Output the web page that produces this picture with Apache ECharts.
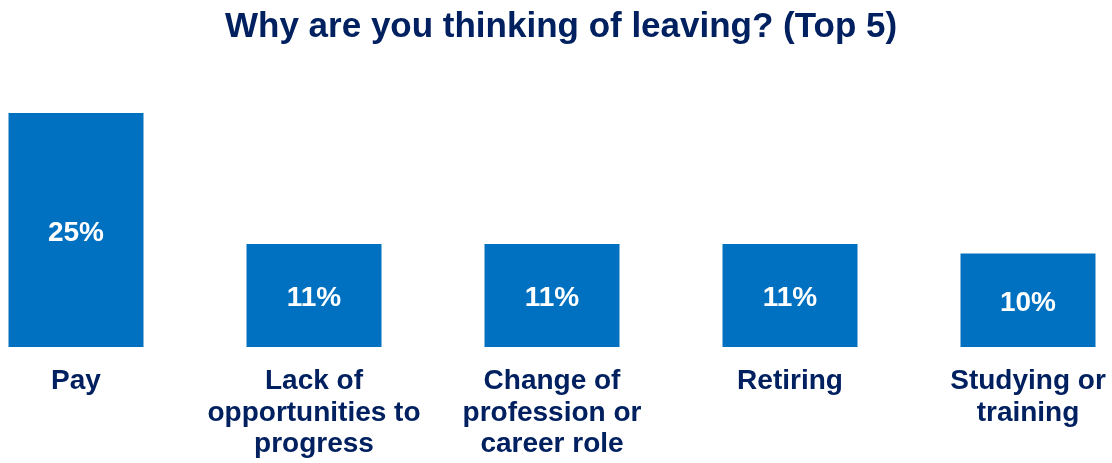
<!DOCTYPE html>
<html>
<head>
<meta charset="utf-8">
<script src="https://cdn.jsdelivr.net/npm/echarts@6/dist/echarts.min.js"></script>
<style>
  html, body { margin: 0; padding: 0; background: #ffffff; overflow: hidden; }
  body { position: relative; width: 1112px; height: 463px; }
  /* the plot runs slightly past both window edges, so the canvas is wider and shifted left */
  #chart { position: absolute; left: -43px; top: 0; width: 1190px; height: 463px; }
</style>
</head>
<body>
<div id="chart"></div>
<script>
// Reasons for thinking of leaving (share of respondents, %)
const categories = [
  'Pay',
  'Lack of\nopportunities to\nprogress',
  'Change of\nprofession or\ncareer role',
  'Retiring',
  'Studying or\ntraining'
];
const values = [25, 11, 11, 11, 10];
const titleText = 'Why are you thinking of leaving? (Top 5)';

const NAVY = '#002060';
const BLUE = '#0070C0';
const FONT = '"Liberation Sans", Arial, sans-serif';

const chart = echarts.init(document.getElementById('chart'));
chart.setOption({
  animation: false,
  backgroundColor: '#ffffff',
  title: {
    text: titleText,
    left: 268,
    top: 10,
    padding: 0,
    textStyle: { color: NAVY, fontFamily: FONT, fontWeight: 'bold', fontSize: 35 }
  },
  grid: { left: 0, right: 0, top: 113, bottom: 116, containLabel: false },
  xAxis: {
    type: 'category',
    data: categories,
    boundaryGap: true,
    axisLine: { show: false },
    axisTick: { show: false },
    axisLabel: {
      interval: 0,
      margin: 19,
      color: NAVY,
      fontFamily: FONT,
      fontWeight: 'bold',
      fontSize: 28,
      lineHeight: 31.5
    }
  },
  yAxis: {
    type: 'value',
    min: 0,
    max: 25,
    show: false,
    splitLine: { show: false }
  },
  series: [{
    type: 'bar',
    data: values,
    barWidth: 135,
    itemStyle: { color: BLUE },
    label: {
      show: true,
      position: 'inside',
      offset: [0, 3],
      formatter: '{c}%',
      color: '#ffffff',
      fontFamily: FONT,
      fontWeight: 'bold',
      fontSize: 28
    }
  }]
});
</script>
</body>
</html>
